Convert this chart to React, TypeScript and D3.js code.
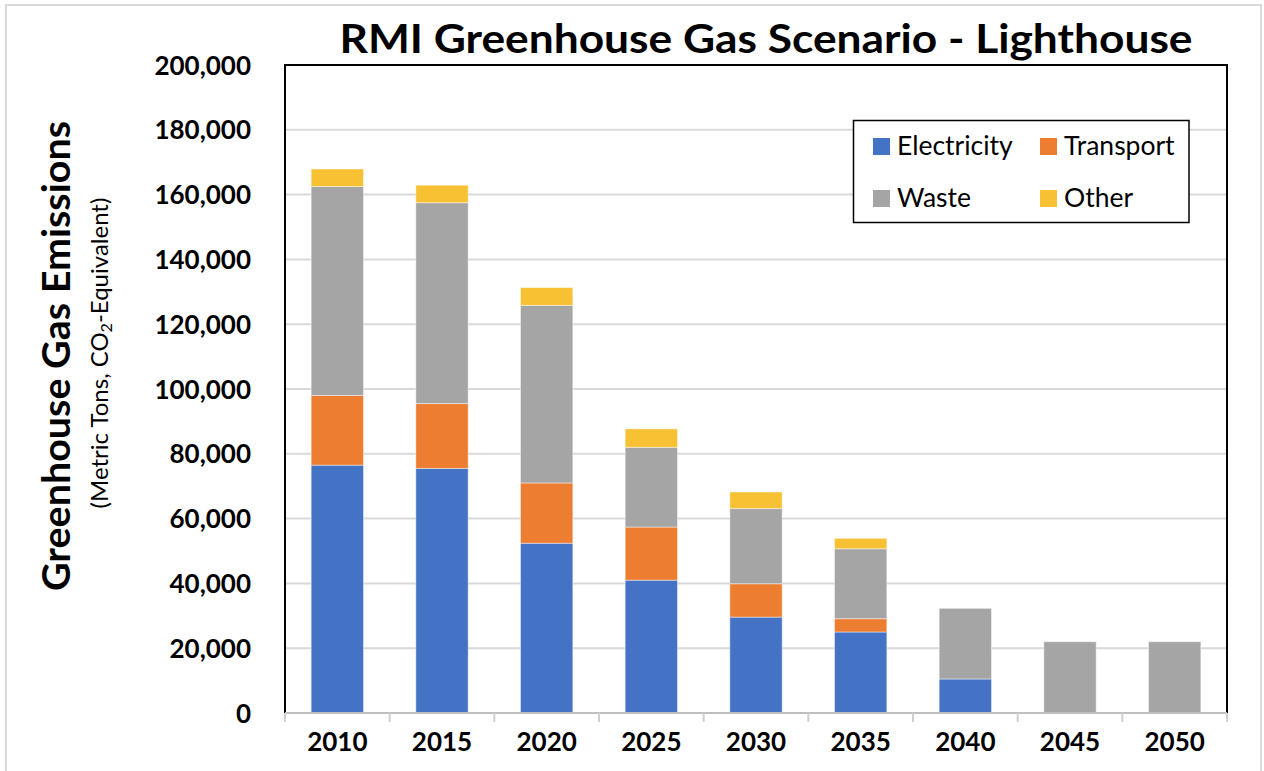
import React from "react";
import * as d3 from "d3";

const years = ["2010", "2015", "2020", "2025", "2030", "2035", "2040", "2045", "2050"];
const electricity = [76500, 75500, 52400, 41000, 29600, 25000, 10500, 0, 0];
const transport = [21500, 20000, 18600, 16400, 10300, 4100, 0, 0, 0];
const waste = [64500, 62000, 54800, 24600, 23200, 21600, 21800, 22000, 22000];
const other = [5400, 5400, 5500, 5700, 5100, 3200, 0, 0, 0];
const seriesNames = ["Electricity", "Transport", "Waste", "Other"];
const seriesColors = ["#4472C4", "#ED7D31", "#A5A5A5", "#F8C133"];
const yTicks = [0, 20000, 40000, 60000, 80000, 100000, 120000, 140000, 160000, 180000, 200000];

const W = 1264;
const H = 771;
const left = 285;
const right = 1227;
const top = 65;
const bottom = 713;

export default function App() {
  const x = d3.scaleBand().domain(years).range([left, right]).paddingInner(0.5).paddingOuter(0.25);
  const band = d3.scaleBand().domain(years).range([left, right]);
  const y = d3.scaleLinear().domain([0, 200000]).range([bottom, top]);
  const rows = years.map((yr, i) => ({
    year: yr,
    Electricity: electricity[i],
    Transport: transport[i],
    Waste: waste[i],
    Other: other[i],
  }));
  const stacked = d3.stack<any>().keys(seriesNames)(rows);
  const fmt = d3.format(",");
  const font = "Lato, 'Open Sans', sans-serif";

  const legendItems = [
    { name: "Electricity", color: seriesColors[0], lx: 873, ly: 138 },
    { name: "Transport", color: seriesColors[1], lx: 1040, ly: 138 },
    { name: "Waste", color: seriesColors[2], lx: 873, ly: 190 },
    { name: "Other", color: seriesColors[3], lx: 1040, ly: 190 },
  ];

  return (
    <svg width={W} height={H} style={{ position: "absolute", left: 0, top: 0, background: "#fff" }}>
      <rect x={6} y={5} width={1255} height={790} fill="#fff" stroke="#D9D9D9" strokeWidth={2} />
      {yTicks.slice(1).map((t) => (
        <line key={"g" + t} x1={left} x2={right} y1={y(t)} y2={y(t)} stroke="#D9D9D9" strokeWidth={2} />
      ))}
      {stacked.map((s, si) => (
        <g key={s.key} fill={seriesColors[si]}>
          {s.map((d, i) =>
            d[1] - d[0] > 0 ? (
              <rect
                key={i}
                x={x(years[i])}
                width={x.bandwidth()}
                y={y(d[1])}
                height={y(d[0]) - y(d[1])}
                stroke="#ffffff"
                strokeOpacity={0.45}
                strokeWidth={1}
              />
            ) : null
          )}
        </g>
      ))}
      <path
        d={`M${left},${bottom} L${left},${top} L${right},${top} L${right},${bottom}`}
        fill="none"
        stroke="#000"
        strokeWidth={2}
      />
      <line x1={left} x2={right} y1={bottom} y2={bottom} stroke="#BFBFBF" strokeWidth={2} />
      {years.map((yr) => (
        <line key={"t" + yr} x1={band(yr)} x2={band(yr)} y1={bottom} y2={bottom + 9} stroke="#D0D0D0" strokeWidth={2} />
      ))}
      <line x1={right} x2={right} y1={bottom} y2={bottom + 9} stroke="#D0D0D0" strokeWidth={2} />
      {years.map((yr) => (
        <text
          key={"xl" + yr}
          x={(band(yr) as number) + band.bandwidth() / 2}
          y={751}
          textAnchor="middle"
          fontFamily={font}
          fontWeight={700}
          fontSize={26}
          fill="#000"
        >
          {yr}
        </text>
      ))}
      {yTicks.map((t) => (
        <text
          key={"yl" + t}
          x={251}
          y={y(t) + 9.5}
          textAnchor="end"
          fontFamily={font}
          fontWeight={700}
          fontSize={26}
          fill="#000"
        >
          {fmt(t)}
        </text>
      ))}
      <text
        x={766}
        y={53}
        textAnchor="middle"
        fontFamily={font}
        fontWeight={700}
        fontSize={40}
        textLength={853}
        lengthAdjust="spacingAndGlyphs"
        fill="#000"
      >
        RMI Greenhouse Gas Scenario - Lighthouse
      </text>
      <text
        transform="translate(70,356) rotate(-90)"
        textAnchor="middle"
        fontFamily={font}
        fontWeight={700}
        fontSize={39}
        textLength={470}
        lengthAdjust="spacingAndGlyphs"
        fill="#000"
      >
        Greenhouse Gas Emissions
      </text>
      <text
        transform="translate(108,353) rotate(-90)"
        textAnchor="middle"
        fontFamily={font}
        fontWeight={400}
        fontSize={24}
        fill="#000"
      >
        (Metric Tons, CO<tspan fontSize={16} dy={4}>2</tspan>
        <tspan dy={-4}>-Equivalent)</tspan>
      </text>
      <rect x={853.5} y={120.5} width={335.5} height={102} fill="#fff" stroke="#000" strokeWidth={1.5} />
      {legendItems.map((it) => (
        <g key={it.name}>
          <rect x={it.lx} y={it.ly} width={17} height={17} fill={it.color} />
          <text x={it.lx + 24} y={it.ly + 17} fontFamily={font} fontSize={26.5} fill="#000">
            {it.name}
          </text>
        </g>
      ))}
    </svg>
  );
}
